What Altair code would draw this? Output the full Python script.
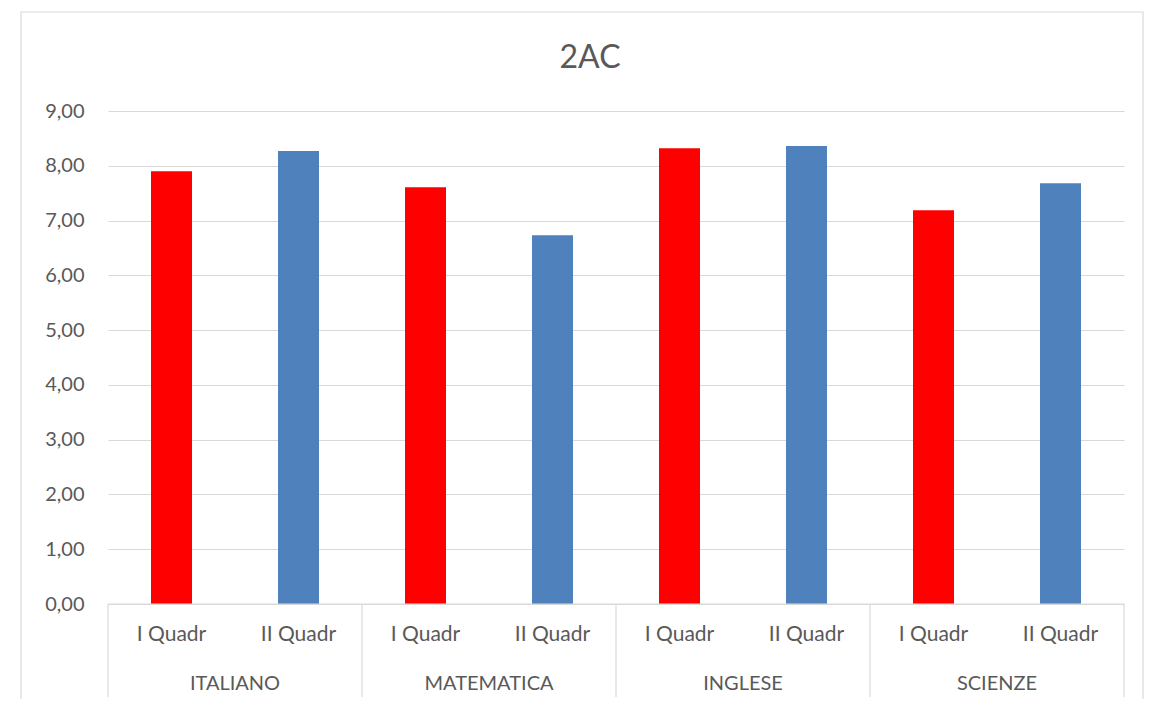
import altair as alt
import pandas as pd

chart_title = "2AC"
subjects = ["ITALIANO", "MATEMATICA", "INGLESE", "SCIENZE"]
periods = ["I Quadr", "II Quadr"]
q1_values = [7.90, 7.61, 8.32, 7.19]
q2_values = [8.27, 6.73, 8.36, 7.68]
y_ticks = [0, 1, 2, 3, 4, 5, 6, 7, 8, 9]

rows = []
for i, s in enumerate(subjects):
    for j, (p, v) in enumerate(zip(periods, [q1_values[i], q2_values[i]])):
        rows.append({"subject": s, "period": p, "value": v, "pos": 2 * i + j + 0.5})
df = pd.DataFrame(rows)
subj_df = pd.DataFrame({"subject": subjects, "pos": [2 * i + 1 for i in range(len(subjects))]})
sep_df = pd.DataFrame({"b": [2 * i for i in range(len(subjects) + 1)]})
one = pd.DataFrame({"k": [0]})
title_df = pd.DataFrame({"t": [chart_title]})

W, H = 1016, 493
FONT = "Lato"
TXT = "#595959"
GRID = "#d9d9d9"
xscale = alt.Scale(domain=[0, 2 * len(subjects)], nice=False, zero=False, padding=0)

border = alt.Chart(one).mark_rect(filled=False, stroke=GRID, strokeWidth=1.2).encode(
    x=alt.value(-87), x2=alt.value(W + 19), y=alt.value(-99), y2=alt.value(H + 140)
)

title_text = alt.Chart(title_df).mark_text(font=FONT, fontSize=32, color=TXT, baseline="alphabetic",
                                           align="center").encode(
    x=alt.value(W / 2 - 26), y=alt.value(-43), text="t:N"
)

bars = alt.Chart(df).mark_bar(size=41).encode(
    x=alt.X("pos:Q", scale=xscale, axis=None),
    y=alt.Y("value:Q", scale=alt.Scale(domain=[0, 9], nice=False),
            axis=alt.Axis(values=y_ticks, labelExpr="replace(format(datum.value, '.2f'), '.', ',')",
                          grid=True, gridColor=GRID, gridWidth=1.2, domain=False, ticks=False,
                          labelPadding=24, title=None, labelFontSize=20, labelColor=TXT,
                          labelFont=FONT)),
    color=alt.Color("period:N", scale=alt.Scale(domain=periods, range=["#FF0000", "#4F81BD"]), legend=None),
)

baseline = alt.Chart(one).mark_rule(color=GRID, strokeWidth=1.2).encode(
    x=alt.value(0), x2=alt.value(W), y=alt.value(H)
)

seps = alt.Chart(sep_df).mark_rule(color=GRID, strokeWidth=1.2).encode(
    x=alt.X("b:Q", scale=xscale, axis=None), y=alt.value(H), y2=alt.value(H + 93)
)

period_text = alt.Chart(df).mark_text(font=FONT, fontSize=21, color=TXT, baseline="middle").encode(
    x=alt.X("pos:Q", scale=xscale, axis=None), y=alt.value(H + 31), text="period:N"
)

subj_text = alt.Chart(subj_df).mark_text(font=FONT, fontSize=20, color=TXT, baseline="middle").encode(
    x=alt.X("pos:Q", scale=xscale, axis=None), y=alt.value(H + 80), text="subject:N"
)

chart = alt.layer(border, title_text, bars, baseline, seps, period_text, subj_text).properties(
    width=W, height=H,
    autosize=alt.AutoSizeParams(type="none"),
    padding={"left": 100, "top": 103, "right": 20, "bottom": 95},
).configure_view(stroke=None)

chart.save("out.html", embed_options={"renderer": "svg", "actions": False})
